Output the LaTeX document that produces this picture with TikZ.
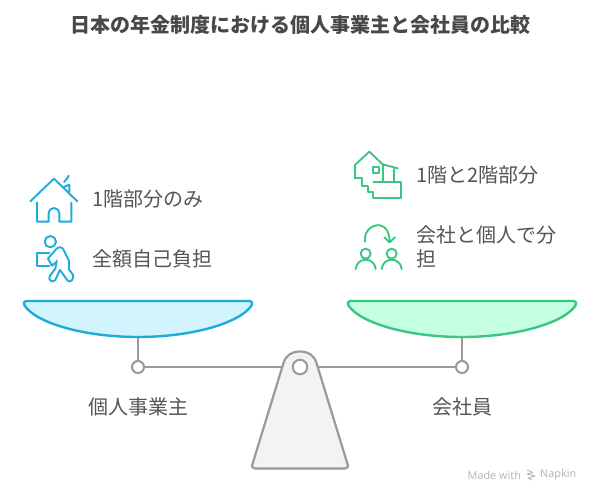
\documentclass[tikz,border=0pt]{standalone}
\usepackage{fontspec}
\setmainfont{Noto Sans CJK JP}
\newfontfamily\latinfont{Noto Sans}
\definecolor{txt}{HTML}{555555}
\definecolor{ttl}{HTML}{484848}
\definecolor{blu}{HTML}{1EACDB}
\definecolor{blufill}{HTML}{D1F4FF}
\definecolor{grn}{HTML}{3CC583}
\definecolor{grnfill}{HTML}{C4FFE3}
\definecolor{gry}{HTML}{999999}
\definecolor{standfill}{HTML}{F3F3F3}
\definecolor{wmgray}{HTML}{B8B8B8}
\tikzset{
  lbl/.style={text=txt,font=\fontsize{20}{24}\selectfont,inner sep=0pt},
  lblleft/.style={lbl,anchor=west,align=left},
  joint/.style={circle,draw=gry,fill=white,line width=2pt,minimum size=12pt,inner sep=0pt},
  beamline/.style={draw=gry,line width=2.2pt},
  bowl/.style={line width=2.4pt,line join=round},
  ico/.style={line width=1.9pt,line join=round,line cap=round},
  zoomed/.style={x=0.3333pt,y=-0.3333pt}
}
\begin{document}
\begin{tikzpicture}[x=1pt,y=-1pt]
\useasboundingbox (0,0) rectangle (600,503);
\fill[white] (0,0) rectangle (600,503);
\node[text=ttl,font=\fontsize{20}{24}\selectfont\bfseries,inner sep=0pt] (title) at (300.5,25) {日本の年金制度における個人事業主と会社員の比較};
% balance
\coordinate (lbowl) at (138,337);
\coordinate (rbowl) at (462,337);
\node[joint] (ljoint) at (138,367) {};
\node[joint] (rjoint) at (462,367) {};
\draw[beamline] (lbowl) -- (ljoint);
\draw[beamline] (rbowl) -- (rjoint);
\draw[beamline] (ljoint) -- (rjoint);
\draw[draw=gry,fill=standfill,line width=2.2pt,line join=round]
  (283.5,363) .. controls (286,355) and (292,351.5) .. (300,351.5)
  .. controls (308,351.5) and (314,355) .. (316.5,363)
  -- (347.5,464) .. controls (348.5,467) and (347.5,468.5) .. (345,468.5)
  -- (255,468.5) .. controls (252.5,468.5) and (251.5,467) .. (252.5,464) -- cycle;
\node[joint,minimum size=14.5pt] (pivot) at (300,367) {};
% bowls
\draw[bowl,draw=blu,fill=blufill]
  (26,301) -- (250,301) .. controls (252.5,301) and (252.5,303.5) .. (251.5,305.5)
  .. controls (240,323) and (192,337) .. (138,337)
  .. controls (84,337) and (36,323) .. (24.5,305.5)
  .. controls (23.5,303.5) and (23.5,301) .. (26,301) -- cycle;
\draw[bowl,draw=grn,fill=grnfill]
  (350,301) -- (574,301) .. controls (576.5,301) and (576.5,303.5) .. (575.5,305.5)
  .. controls (564,323) and (516,337) .. (462,337)
  .. controls (408,337) and (360,323) .. (348.5,305.5)
  .. controls (347.5,303.5) and (347.5,301) .. (350,301) -- cycle;
% labels
\node[lbl] (lname) at (138,407) {個人事業主};
\node[lbl] (rname) at (462,407) {会社員};
\node[lblleft] (l1) at (92.5,199) {1階部分のみ};
\node[lblleft] (l2) at (92.5,259) {全額自己負担};
\node[lblleft] (r1) at (416,175) {1階と2階部分};
\node[lblleft] (r2) at (416,247) {会社と個人で分\\担};
% blue house
\begin{scope}[shift={(0,140)},zoomed,ico]
  \draw[blu] (91,184) -- (162,116) -- (232,184);
  \draw[blu] (111,188) -- (111,245) -- (146,245) -- (146,222) .. controls (146,198) and (178,198) .. (178,222) -- (178,245) -- (214,245) -- (214,188);
  \draw[blu] (190,142) -- (208,134) -- (208,156);
  \draw[blu] (192,126) .. controls (197,118) and (205,116) .. (206,107);
\end{scope}
% blue person
\begin{scope}[shift={(20,170)},zoomed,ico]
  \draw[blu] (91,215) circle (17);
  \draw[blu] (88,250) -- (52,250) -- (52,288) -- (88,288);
  \draw[blu] (84,266) -- (108,238) .. controls (116,229) and (126,230) .. (131,240) -- (147,272) -- (147,298) -- (159,315) .. controls (163,326) and (152,340) .. (143,332) -- (120,300) -- (106,330) .. controls (99,340) and (81,330) .. (90,317) -- (106,296) -- (110,272);
  \draw[blu] (84,266) -- (96,287) -- (106,278);
\end{scope}
% green house
\begin{scope}[shift={(345,145)},zoomed,ico]
  \draw[grn] (30,100) -- (30,60) -- (73,20) -- (113,58) -- (158,70);
  \draw[grn] (30,100) -- (52,100) -- (52,122) -- (68,122) -- (68,140) -- (85,140) -- (85,158) -- (168,158) -- (168,112) -- (85,112);
  \draw[grn] (113,58) -- (113,112);
  \draw[grn] (148,72) -- (148,112);
  \draw[grn] (83,67) rectangle (101,85);
\end{scope}
% green people
\begin{scope}[shift={(345,145)},zoomed,ico]
  \draw[grn] (60,290) .. controls (56,250) and (90,238) .. (105,241) .. controls (122,244) and (134,262) .. (134,290);
  \draw[grn] (118,277) -- (134,292) -- (150,277);
  \draw[grn] (62,326) circle (15);
  \draw[grn] (140,326) circle (15);
  \draw[grn] (32,372) .. controls (34,352) and (50,344) .. (62,344) .. controls (74,344) and (90,352) .. (92,372);
  \draw[grn] (110,372) .. controls (112,352) and (128,344) .. (140,344) .. controls (152,344) and (168,352) .. (170,372);
\end{scope}
% watermark
\node[anchor=west,inner sep=0pt,text=wmgray,font=\latinfont\fontsize{10.8}{12}\selectfont] (made) at (467.5,475) {Made with};
\node[anchor=east,inner sep=0pt,text=wmgray,font=\latinfont\fontsize{10.8}{12}\selectfont] (napkin) at (576.5,475) {Napkin};
\draw[wmgray,line width=0.9pt,line cap=round,line join=round] (527,470) -- (533,472.5) -- (527,474) -- (535,476) -- (528,478) -- (532,480);
\end{tikzpicture}
\end{document}
